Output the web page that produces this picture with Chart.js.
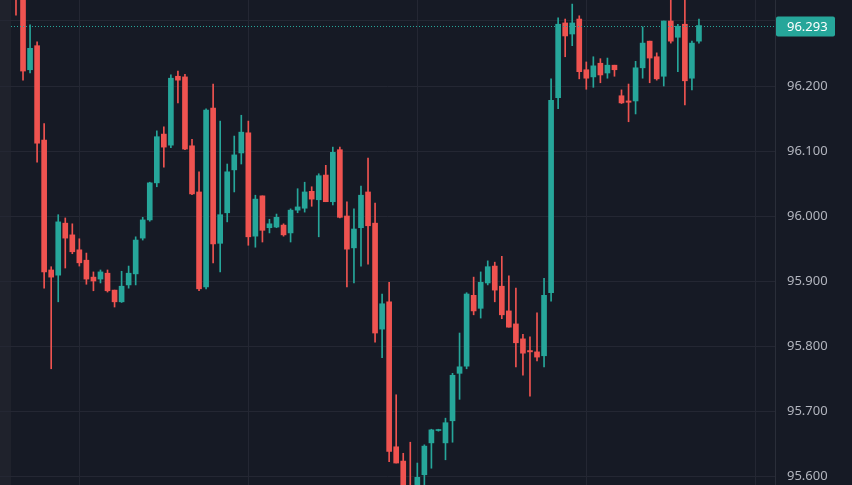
<!DOCTYPE html>
<html><head><meta charset="utf-8">
<script src="https://cdn.jsdelivr.net/npm/chart.js@4/dist/chart.umd.min.js"></script>
<style>html,body{margin:0;padding:0;background:#161a25;}#w{width:852px;height:485px;}</style>
</head><body><div id="w"><canvas id="c"></canvas></div>
<script>
const open=[96.36,96.34,96.225,96.262,96.117,95.917,95.909,95.989,95.971,95.948,95.932,95.906,95.903,95.912,95.886,95.868,95.894,95.911,95.966,95.994,96.051,96.126,96.109,96.215,96.214,96.108,96.037,95.891,96.166,95.958,96.005,96.071,96.097,96.128,95.969,96.031,95.982,95.983,95.986,95.974,96.009,96.012,96.038,96.025,96.063,96.022,96.102,96.0,95.951,95.982,96.037,95.989,95.826,95.868,95.645,95.623,95.585,95.56,95.602,95.651,95.670,95.651,95.685,95.758,95.769,95.878,95.858,95.897,95.923,95.892,95.854,95.834,95.811,95.793,95.791,95.785,95.882,96.182,96.297,96.28,96.303,96.225,96.214,96.235,96.22,96.232,96.185,96.177,96.177,96.228,96.269,96.245,96.215,96.3,96.275,96.295,96.212,96.269];
const high=[96.37,96.35,96.294,96.268,96.142,95.922,96.002,95.997,95.988,95.965,95.943,95.914,95.917,95.917,95.886,95.915,95.923,95.968,95.998,96.052,96.131,96.137,96.217,96.223,96.218,96.118,96.068,96.165,96.203,96.146,96.08,96.123,96.155,96.146,96.032,96.031,95.995,96.003,95.988,96.011,96.042,96.052,96.045,96.065,96.078,96.106,96.106,96.022,96.011,96.046,96.089,96.02,95.88,95.898,95.725,95.635,95.652,95.62,95.648,95.672,95.672,95.689,95.758,95.82,95.882,95.906,95.914,95.931,95.929,95.938,95.908,95.889,95.818,95.814,95.851,95.904,96.211,96.305,96.303,96.326,96.308,96.237,96.245,96.242,96.243,96.232,96.194,96.203,96.238,96.291,96.269,96.251,96.3,96.332,96.295,96.34,96.269,96.303];
const low=[96.309,96.209,96.220,96.083,95.889,95.765,95.868,95.92,95.942,95.923,95.895,95.885,95.897,95.883,95.86,95.867,95.889,95.894,95.963,95.992,96.045,96.075,96.105,96.174,96.102,96.033,95.885,95.888,95.928,95.914,95.991,96.037,96.08,95.955,95.952,95.96,95.974,95.982,95.969,95.96,96.005,96.006,96.015,95.968,96.022,96.017,95.997,95.891,95.897,95.923,95.926,95.806,95.782,95.622,95.62,95.57,95.55,95.55,95.58,95.612,95.669,95.625,95.652,95.718,95.765,95.848,95.843,95.894,95.868,95.842,95.829,95.768,95.755,95.723,95.777,95.768,95.869,96.165,96.245,96.262,96.211,96.195,96.198,96.205,96.212,96.215,96.173,96.145,96.157,96.212,96.205,96.209,96.2,96.266,96.222,96.171,96.194,96.266];
const close=[96.34,96.223,96.258,96.112,95.914,95.906,95.991,95.966,95.945,95.928,95.903,95.9,95.914,95.885,95.868,95.892,95.912,95.963,95.994,96.051,96.122,96.106,96.212,96.209,96.103,96.034,95.888,96.163,95.957,96.002,96.068,96.094,96.129,95.968,96.026,95.978,95.988,95.998,95.971,96.009,96.014,96.037,96.026,96.062,96.022,96.098,95.998,95.949,95.98,96.032,95.985,95.82,95.865,95.638,95.62,95.58,95.56,95.598,95.646,95.671,95.671,95.682,95.755,95.768,95.88,95.854,95.898,95.922,95.886,95.848,95.829,95.805,95.789,95.791,95.783,95.878,96.178,96.295,96.277,96.297,96.222,96.212,96.231,96.217,96.232,96.225,96.174,96.175,96.228,96.266,96.243,96.211,96.3,96.269,96.292,96.208,96.266,96.293];
const lastPrice=96.293;
const priceTicks=[95.6,95.7,95.8,95.9,96.0,96.1,96.2,96.3];
const gridX=[9,33,57,81,105];

const UP='#26a69a',DN='#ef5350';
const idx=open.map((_,i)=>i);
const col=idx.map(i=>close[i]>=open[i]?UP:DN);
const bodies=idx.map(i=>({x:i,y:[Math.min(open[i],close[i]),Math.max(open[i],close[i])]}));
const wicks=idx.map(i=>({x:i,y:[low[i],high[i]]}));

const deco={id:'deco',
 beforeDraw(ch){const c=ch.ctx;c.save();c.fillStyle='#161a25';c.fillRect(0,0,ch.width,ch.height);c.fillStyle='#1f222c';c.fillRect(0,0,11,ch.height);c.restore();},
 afterDraw(ch){const c=ch.ctx,y=ch.scales.y,a=ch.chartArea;
  c.save();c.fillStyle='#b2b5be';c.font='13px "Noto Sans", sans-serif';c.textBaseline='middle';c.textAlign='left';
  priceTicks.forEach(v=>{if(Math.abs(v-lastPrice)>0.02)c.fillText(v.toFixed(3),a.right+12,y.getPixelForValue(v)+0.5);});
  const py=Math.round(y.getPixelForValue(lastPrice))+0.5;
  c.strokeStyle=UP;c.lineWidth=1;c.setLineDash([1,2]);c.beginPath();c.moveTo(11,py);c.lineTo(a.right,py);c.stroke();c.setLineDash([]);
  c.fillStyle=UP;c.beginPath();c.roundRect(a.right+1,py-10,59,20,2);c.fill();
  c.fillStyle='#ffffff';c.fillText(lastPrice.toFixed(3),a.right+12,py+0.5);
  c.strokeStyle='#2a2e39';c.beginPath();c.moveTo(a.right+0.5,0);c.lineTo(a.right+0.5,ch.height);c.stroke();
  c.restore();}
};

new Chart(document.getElementById('c'),{
 type:'bar',
 data:{datasets:[
  {data:wicks,backgroundColor:col,barThickness:1,grouped:false,borderWidth:0,order:2},
  {data:bodies,backgroundColor:col,barThickness:5,grouped:false,borderWidth:0,order:1,minBarLength:1}
 ]},
 options:{responsive:true,maintainAspectRatio:false,animation:false,
  layout:{padding:0},
  plugins:{legend:{display:false},tooltip:{enabled:false}},
  scales:{
   x:{type:'linear',min:-2.27,max:107.8,offset:false,
     afterBuildTicks(s){s.ticks=gridX.map(v=>({value:v}));},
     afterFit(s){s.height=0;},
     ticks:{display:false},grid:{color:'#242733',drawTicks:false,offset:false},border:{display:false}},
   y:{position:'right',min:95.5862,max:96.3323,
     afterBuildTicks(s){s.ticks=priceTicks.map(v=>({value:v}));},
     afterFit(s){s.width=77;},
     ticks:{display:false},
     grid:{color:'#242733',drawTicks:false},border:{display:false}}
  }},
 plugins:[deco]
});
</script></body></html>
